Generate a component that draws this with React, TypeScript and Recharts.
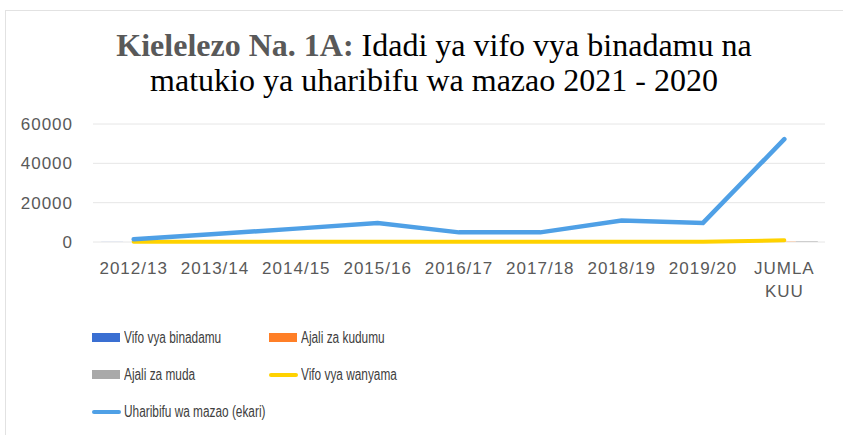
import React from "react";
import { ComposedChart, Bar, Line, XAxis, YAxis, CartesianGrid } from "recharts";

// Categories (years) and series values
const categories = [
  "2012/13",
  "2013/14",
  "2014/15",
  "2015/16",
  "2016/17",
  "2017/18",
  "2018/19",
  "2019/20",
  "JUMLA KUU",
];
const vifoBinadamu = [30, 35, 40, 38, 45, 42, 50, 48, 328];
const ajaliKudumu = [10, 12, 15, 14, 18, 16, 20, 19, 124];
const ajaliMuda = [25, 28, 30, 32, 35, 33, 38, 36, 257];
const vifoWanyama = [90, 100, 110, 105, 115, 110, 120, 115, 865];
const uharibifuMazao = [1400, 4100, 6800, 9600, 4900, 4900, 10900, 9700, 52300];
const yTicks = [0, 20000, 40000, 60000];

const BLUE_DARK = "#3a6fd2";
const ORANGE = "#ff7f27";
const GRAY = "#a9a9a9";
const YELLOW = "#ffd200";
const BLUE_LIGHT = "#4fa0e6";

const chartData = categories.map((name, i) => ({
  name,
  vifoBinadamu: vifoBinadamu[i],
  ajaliKudumu: ajaliKudumu[i],
  ajaliMuda: ajaliMuda[i],
  vifoWanyama: vifoWanyama[i],
  uharibifuMazao: uharibifuMazao[i],
}));

// legend entries, in the order they appear (two columns)
const legendItems = [
  { label: "Vifo vya binadamu", color: BLUE_DARK, kind: "rect" },
  { label: "Ajali za kudumu", color: ORANGE, kind: "rect" },
  { label: "Ajali za muda", color: GRAY, kind: "rect" },
  { label: "Vifo vya wanyama", color: YELLOW, kind: "line" },
  { label: "Uharibifu wa mazao (ekari)", color: BLUE_LIGHT, kind: "line" },
];

const TICK_FONT = "'Liberation Sans', Arial, sans-serif";

const XTick = ({ x, y, payload }: any) => {
  const lines = String(payload.value).split(" ");
  return (
    <text
      x={x}
      y={y + 24}
      textAnchor="middle"
      fill="#595959"
      fontSize={17}
      fontFamily={TICK_FONT}
      letterSpacing={1}
    >
      {lines.map((l, i) => (
        <tspan key={i} x={x} dy={i === 0 ? 0 : 23}>
          {l}
        </tspan>
      ))}
    </text>
  );
};

const YTick = ({ x, y, payload }: any) => (
  <text
    x={x}
    y={y + 6}
    textAnchor="end"
    fill="#595959"
    fontSize={17}
    fontFamily={TICK_FONT}
    letterSpacing={1}
  >
    {payload.value}
  </text>
);

export default function App() {
  return (
    <div
      style={{
        position: "absolute",
        left: 0,
        top: 0,
        width: 843,
        height: 435,
        background: "#fff",
        overflow: "hidden",
      }}
    >
      {/* outer frame */}
      <div
        style={{
          position: "absolute",
          left: 5,
          top: 10,
          width: 860,
          height: 450,
          border: "1px solid #e2e2e2",
        }}
      />
      {/* title */}
      <div
        style={{
          position: "absolute",
          left: 0,
          top: 28,
          width: 868,
          textAlign: "center",
          fontFamily: "'Liberation Serif', 'Times New Roman', serif",
          fontSize: 32,
          lineHeight: "35px",
          color: "#000",
        }}
      >
        <span style={{ fontWeight: "bold", color: "#595959" }}>Kielelezo Na. 1A:</span> Idadi ya vifo vya binadamu na
        <br />
        matukio ya uharibifu wa mazao 2021 - 2020
      </div>

      <div style={{ position: "absolute", left: 0, top: 0 }}>
        <ComposedChart
          width={843}
          height={435}
          data={chartData}
          margin={{ top: 124, right: 18, left: 13, bottom: 133 }}
          barGap={0}
        >
          <CartesianGrid stroke="#e6e6e6" vertical={false} />
          <XAxis
            dataKey="name"
            axisLine={false}
            tickLine={false}
            interval={0}
            height={60}
            tick={<XTick />}
          />
          <YAxis
            type="number"
            domain={[0, 60000]}
            ticks={yTicks}
            axisLine={false}
            tickLine={false}
            width={80}
            tickMargin={14}
            tick={<YTick />}
          />
          <Bar dataKey="vifoBinadamu" fill={BLUE_DARK} isAnimationActive={false} />
          <Bar dataKey="ajaliKudumu" fill={ORANGE} isAnimationActive={false} />
          <Bar dataKey="ajaliMuda" fill={GRAY} isAnimationActive={false} />
          <Line
            dataKey="vifoWanyama"
            stroke={YELLOW}
            strokeWidth={4}
            dot={false}
            strokeLinecap="round"
            isAnimationActive={false}
          />
          <Line
            dataKey="uharibifuMazao"
            stroke={BLUE_LIGHT}
            strokeWidth={4.5}
            dot={false}
            strokeLinecap="round"
            isAnimationActive={false}
          />
        </ComposedChart>
      </div>

      {/* legend */}
      <div
        style={{
          position: "absolute",
          left: 92,
          top: 319,
          display: "grid",
          gridTemplateColumns: "177px 200px",
          gridAutoRows: "37px",
          fontFamily: TICK_FONT,
          fontSize: 16,
          color: "#404040",
          whiteSpace: "nowrap",
        }}
      >
        {legendItems.map((it) => (
          <div key={it.label} style={{ display: "flex", alignItems: "center" }}>
            {it.kind === "rect" ? (
              <span style={{ width: 28, height: 9, background: it.color, marginRight: 4, flex: "none" }} />
            ) : (
              <span
                style={{
                  width: 29,
                  height: 4,
                  borderRadius: 2,
                  background: it.color,
                  marginRight: 3,
                  flex: "none",
                }}
              />
            )}
            <span style={{ display: "inline-block", transform: "scaleX(0.74)", transformOrigin: "left center" }}>
              {it.label}
            </span>
          </div>
        ))}
      </div>
    </div>
  );
}
